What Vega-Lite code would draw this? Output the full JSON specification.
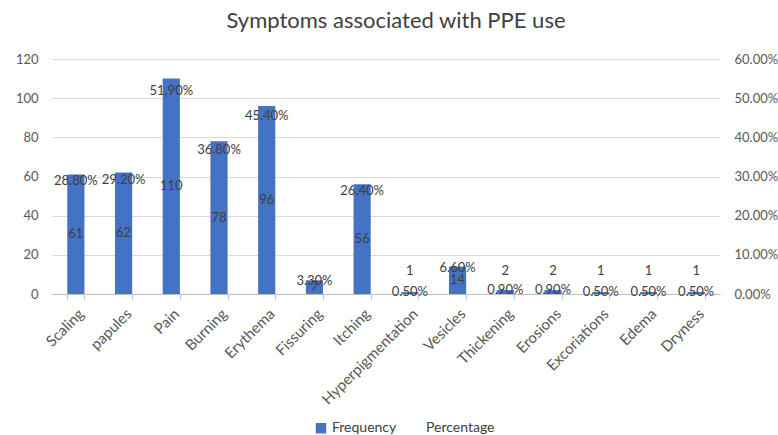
{
  "$schema": "https://vega.github.io/schema/vega-lite/v6.json",
  "width": 668,
  "height": 235,
  "autosize": "none",
  "padding": {"left": 52, "top": 59, "right": 58, "bottom": 141},
  "background": "white",
  "config": {
    "font": "Lato",
    "view": {"stroke": null},
    "axis": {"labelFont": "Lato", "labelColor": "#595959", "labelFontSize": 13}
  },
  "title": {
    "text": "Symptoms associated with PPE use",
    "fontSize": 22,
    "font": "Lato",
    "fontWeight": "normal",
    "color": "#404040",
    "anchor": "middle",
    "dx": 10,
    "offset": 20
  },
  "data": {
    "values": [
      {"symptom": "Scaling", "freq": 61, "pct": 28.8},
      {"symptom": "papules", "freq": 62, "pct": 29.2},
      {"symptom": "Pain", "freq": 110, "pct": 51.9},
      {"symptom": "Burning", "freq": 78, "pct": 36.8},
      {"symptom": "Erythema", "freq": 96, "pct": 45.4},
      {"symptom": "Fissuring", "freq": 7, "pct": 3.3},
      {"symptom": "Itching", "freq": 56, "pct": 26.4},
      {"symptom": "Hyperpigmentation", "freq": 1, "pct": 0.5},
      {"symptom": "Vesicles", "freq": 14, "pct": 6.6},
      {"symptom": "Thickening", "freq": 2, "pct": 0.9},
      {"symptom": "Erosions", "freq": 2, "pct": 0.9},
      {"symptom": "Excoriations", "freq": 1, "pct": 0.5},
      {"symptom": "Edema", "freq": 1, "pct": 0.5},
      {"symptom": "Dryness", "freq": 1, "pct": 0.5}
    ]
  },
  "transform": [
    {"calculate": "datum.freq < 5 ? 12 : datum.freq / 2", "as": "labelPos"},
    {"calculate": "format(datum.pct, '.2f') + '%'", "as": "pctLabel"}
  ],
  "encoding": {
    "x": {
      "field": "symptom",
      "type": "nominal",
      "sort": null,
      "scale": {"paddingInner": 0.64, "paddingOuter": 0.32},
      "axis": {
        "title": null,
        "labelAngle": -45,
        "labelFontSize": 15,
        "domainColor": "#bfbfbf",
        "tickColor": "#bfbfbf",
        "tickBand": "extent",
        "tickSize": 5,
        "labelPadding": 7
      }
    }
  },
  "layer": [
    {
      "mark": {"type": "bar", "color": "#4472C4"},
      "encoding": {
        "y": {
          "field": "freq",
          "type": "quantitative",
          "scale": {"domain": [0, 120]},
          "axis": {
            "title": null,
            "values": [0, 20, 40, 60, 80, 100, 120],
            "grid": true,
            "gridColor": "#d9d9d9",
            "domain": false,
            "ticks": false,
            "labelOverlap": false,
            "labelPadding": 14
          }
        },
        "color": {
          "datum": "Frequency",
          "scale": {"domain": ["Frequency", "Percentage"], "range": ["#4472C4", "transparent"]},
          "legend": {
            "title": null,
            "orient": "none",
            "direction": "horizontal",
            "legendX": 262,
            "legendY": 362,
            "symbolType": "square",
            "symbolSize": 80,
            "labelFontSize": 14,
            "labelColor": "#404040",
            "labelFont": "Lato",
            "columnPadding": 10
          }
        }
      }
    },
    {
      "mark": {"type": "text", "fontSize": 13, "color": "#404040"},
      "encoding": {
        "y": {"field": "labelPos", "type": "quantitative", "scale": {"domain": [0, 120]}, "axis": null},
        "text": {"field": "freq", "type": "quantitative"}
      }
    },
    {
      "mark": {"type": "line", "strokeWidth": 0},
      "encoding": {
        "y": {
          "field": "pct",
          "type": "quantitative",
          "scale": {"domain": [0, 60]},
          "axis": {
            "title": null,
            "orient": "right",
            "values": [0, 10, 20, 30, 40, 50, 60],
            "labelExpr": "format(datum.value, '.2f') + '%'",
            "labelOverlap": false,
            "grid": false,
            "domain": false,
            "ticks": false,
            "labelPadding": 14
          }
        },
        "color": {"datum": "Percentage"}
      }
    },
    {
      "mark": {"type": "text", "fontSize": 13, "color": "#404040"},
      "encoding": {
        "y": {"field": "pct", "type": "quantitative", "scale": {"domain": [0, 60]}, "axis": null},
        "text": {"field": "pctLabel", "type": "nominal"}
      }
    }
  ],
  "resolve": {"scale": {"y": "independent"}}
}
